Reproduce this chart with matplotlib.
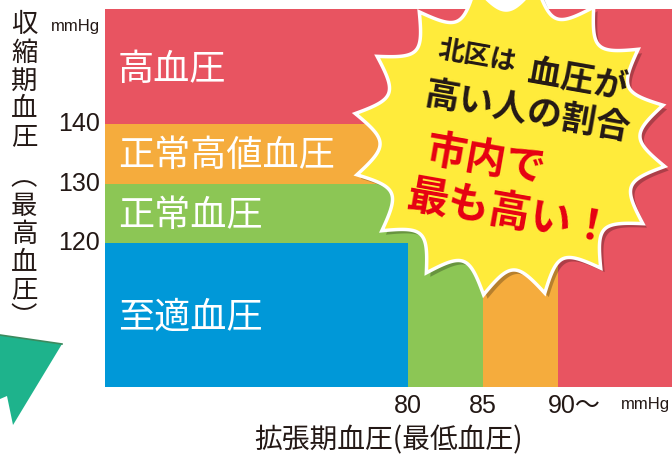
"""Blood pressure classification chart (systolic x diastolic) with starburst note."""
import matplotlib

matplotlib.use("Agg")

import matplotlib.pyplot as plt  # noqa: E402
import numpy as np  # noqa: E402
from matplotlib import font_manager  # noqa: E402
from matplotlib.patches import Polygon  # noqa: E402

JP_FONT = ["Noto Sans CJK JP", "DejaVu Sans"]
_names = {f.name for f in font_manager.fontManager.ttflist}
NUM_FONT = "Liberation Sans Narrow" if "Liberation Sans Narrow" in _names else "Liberation Sans"

# categories, drawn from the widest (hypertension) to the narrowest (optimal)
categories = ["高血圧", "正常高値血圧", "正常血圧", "至適血圧"]
dia_upper = [None, 90, 85, 80]      # None -> open ended
sys_upper = [None, 140, 130, 120]
colors = ["#E85461", "#F5AC3D", "#8CC655", "#0098D8"]

dia_ticks = [80, 85, 90]
dia_labels = ["80", "85", "90〜"]
sys_ticks = [120, 130, 140]
sys_labels = ["120", "130", "140"]

x_label = "拡張期血圧(最低血圧)"
y_label = "収縮期血圧︵最高血圧︶"

# visible window of the chart (mmHg)
X_MIN, X_MAX = 59.8, 97.6
Y_MIN, Y_MAX = 96.0, 159.2

W, H = 672, 462
fig = plt.figure(figsize=(W / 100, H / 100), dpi=100)
ax = fig.add_axes([105 / W, 1 - 387 / H, 1 - 105 / W, (387 - 9) / H])
ax.set_xlim(X_MIN, X_MAX)
ax.set_ylim(Y_MIN, Y_MAX)
ax.axis("off")

for name, d, s, c in zip(categories, dia_upper, sys_upper, colors):
    right = X_MAX if d is None else d
    top = Y_MAX if s is None else s
    ax.bar(X_MIN, top - Y_MIN, width=right - X_MIN, bottom=Y_MIN,
           align="edge", color=c, linewidth=0)

# band labels: centre of the visible part of each band, nudged down a little
bounds = [Y_MAX] + sys_upper[1:] + [Y_MIN]
for i, name in enumerate(categories):
    yc = (bounds[i] + bounds[i + 1]) / 2
    ax.annotate(name, xy=(X_MIN, yc), xytext=(13, -4 if i == 0 else -2),
                textcoords="offset pixels", color="white", fontsize=26,
                family=JP_FONT, ha="left", va="center")

xt = ax.get_xaxis_transform()
for v, lab in zip(dia_ticks, dia_labels):
    ha = "left" if lab.endswith("〜") else "center"
    ax.annotate(lab, xy=(v, 0), xycoords=xt,
                xytext=(-10 if ha == "left" else 0, -19), textcoords="offset pixels",
                ha=ha, va="center", fontsize=18, color="#231815",
                family=[NUM_FONT, "Noto Sans CJK JP"])

yt = ax.get_yaxis_transform()
for v, lab in zip(sys_ticks, sys_labels):
    ax.annotate(lab, xy=(0, v), xycoords=yt, xytext=(-5, 0),
                textcoords="offset pixels", ha="right", va="center",
                fontsize=18, color="#231815", family=NUM_FONT)

# overlay in pixel coordinates for the decorations
ov = fig.add_axes([0, 0, 1, 1], facecolor="none")
ov.set_xlim(0, W)
ov.set_ylim(H, 0)
ov.axis("off")

ov.text(100, 26, "mmHg", ha="right", va="center", fontsize=12,
        family=NUM_FONT, color="#231815")
ov.text(670, 405, "mmHg", ha="right", va="center", fontsize=12,
        family=NUM_FONT, color="#231815")
ov.text(388, 440, x_label, ha="center", va="center", fontsize=20,
        family=JP_FONT, color="#231815")

# vertical y label, one glyph per row
ys = [25, 53, 81, 109, 137, 178, 207, 235, 263, 290, 318]
for ch, yy in zip(y_label, ys):
    ov.text(24, yy, ch, ha="center", va="center", fontsize=19,
            family=JP_FONT, color="#231815")

# green arrow head at lower left
arrow = Polygon([(0, 335), (62, 344), (13, 425), (7, 396), (0, 399)],
                closed=True, facecolor="#1EB38C", edgecolor="none")
ov.add_patch(arrow)
ov.plot([0, 62], [335, 344], color="#3C8A5E", lw=1.2)

# starburst
cx, cy, r_out, r_in, n = 510, 140, 157, 130, 16
phase = np.deg2rad(12.8)
t = np.linspace(0, 1, n * 40, endpoint=False)
frac = (t * n) % 1
r = r_in + (r_out - r_in) * (1 - 2 * np.minimum(frac, 1 - frac)) ** 2
ang = phase + 2 * np.pi * t
pts = np.column_stack([cx + r * np.cos(ang), cy - r * np.sin(ang)])
ov.add_patch(Polygon(pts + [4, 4], closed=True, facecolor="#000000",
                     alpha=0.25, edgecolor="none"))
ov.add_patch(Polygon(pts, closed=True, facecolor="#FFEB3B",
                     edgecolor="white", lw=2.5))

rot = -10
txt = dict(family=JP_FONT, weight="bold", rotation=rot,
           rotation_mode="anchor", ha="center", va="center")
ov.text(477, 57, "北区は", fontsize=19, color="#231815", **txt)
ov.text(577, 80, "血圧が", fontsize=24, color="#231815", **txt)
ov.text(528, 112, "高い人の割合", fontsize=25, color="#231815", **txt)
ov.text(485, 160, "市内で", fontsize=29, color="#E60012", **txt)
ov.text(510, 213, "最も高い！", fontsize=30, color="#E60012", **txt)

fig.savefig("out.png", dpi=100)
plt.close(fig)
